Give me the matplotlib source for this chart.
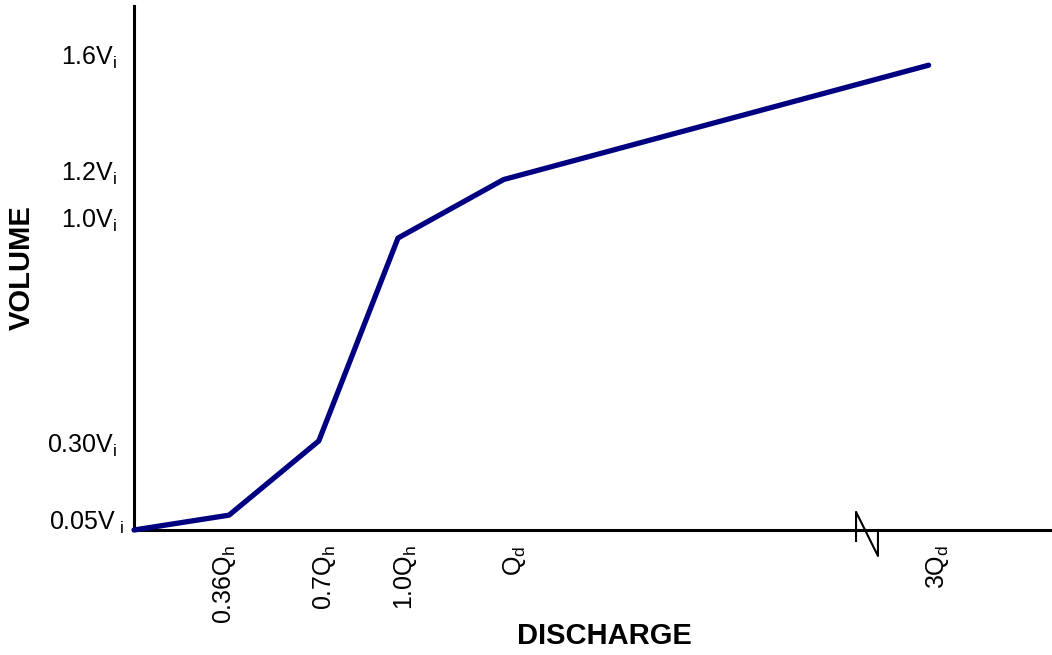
import matplotlib
matplotlib.use("Agg")
import matplotlib.pyplot as plt
from matplotlib.transforms import ScaledTranslation

# Data (discharge in units of Qh on a broken axis, volume in units of Vi)
discharge = [0.0, 0.36, 0.70, 1.00, 1.40, 3.01]
volume = [0.0, 0.05, 0.30, 0.983, 1.18, 1.565]

# Tick labels and their positions
x_tick_pos = [0.341, 0.723, 1.027, 1.443, 3.045]
x_tick_labels = [r"0.36Q$_\mathrm{h}$", r"0.7Q$_\mathrm{h}$", r"1.0Q$_\mathrm{h}$",
                 r"Q$_\mathrm{d}$", r"3Q$_\mathrm{d}$"]
y_tick_pos = [0.034, 0.293, 1.05, 1.21, 1.60]
y_tick_labels = [r"0.05V$_\mathrm{\ i}$", r"0.30V$_\mathrm{i}$", r"1.0V$_\mathrm{i}$",
                 r"1.2V$_\mathrm{i}$", r"1.6V$_\mathrm{i}$"]

plt.rcParams["font.family"] = ["Liberation Sans", "DejaVu Sans"]
plt.rcParams["mathtext.fontset"] = "custom"
plt.rcParams["mathtext.rm"] = "Liberation Sans"
plt.rcParams["mathtext.it"] = "Liberation Sans:italic"
plt.rcParams["mathtext.bf"] = "Liberation Sans:bold"

W, H = 1052, 655
fig = plt.figure(figsize=(W / 100, H / 100), dpi=100)
ax = fig.add_axes([134 / W, (H - 530) / H, 918 / W, 524 / H])

ax.plot(discharge, volume, color="#000080", lw=3.8, solid_capstyle="round",
        solid_joinstyle="round", clip_on=False, zorder=3)

ax.set_xlim(0, 918 / 264)
ax.set_ylim(0, 524 / 297)

for s in ["top", "right"]:
    ax.spines[s].set_visible(False)
for s in ["left", "bottom"]:
    ax.spines[s].set_linewidth(2.2)
    ax.spines[s].set_color("black")

ax.set_xticks(x_tick_pos)
ax.set_xticklabels(x_tick_labels, rotation=90, fontsize=18)
ax.set_yticks(y_tick_pos)
ax.set_yticklabels(y_tick_labels, fontsize=18)
ax.tick_params(axis="both", length=0)
ax.tick_params(axis="y", pad=12)
ax.tick_params(axis="x", pad=11)

# shift the lowest y label slightly right, as in the reference
lbl = ax.get_yticklabels()[0]
lbl.set_transform(lbl.get_transform() + ScaledTranslation(7 / 100, 0, fig.dpi_scale_trans))

# Axis break symbol
bx0, bx1 = 2.735, 2.818
ax.plot([bx0, bx0, bx1, bx1], [-0.037, 0.061, -0.0875, 0.0], color="black",
        lw=1.5, clip_on=False, zorder=4)

fig.text(22 / W, 1 - 268 / H, "VOLUME", rotation=90, fontsize=21,
         fontweight="bold", ha="center", va="center")
fig.text(604 / W, 1 - 636 / H, "DISCHARGE", fontsize=21,
         fontweight="bold", ha="center", va="center")

fig.savefig("out.png", dpi=100)
